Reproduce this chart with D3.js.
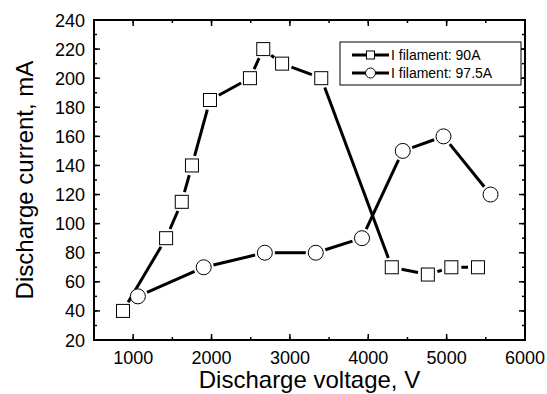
<!DOCTYPE html>
<html>
<head>
<meta charset="utf-8">
<style>
  body { margin: 0; background: #fff; }
  text { font-family: "Liberation Sans", Arial, sans-serif; }
</style>
</head>
<body>
<div id="container"></div>
<script src="https://d3js.org/d3.v7.min.js"></script>
<script>
// data
var series90 = [
  [870, 40], [1420, 90], [1620, 115], [1750, 140], [1980, 185],
  [2490, 200], [2660, 220], [2900, 210], [3400, 200], [4300, 70],
  [4760, 65], [5060, 70], [5400, 70]
];
var series975 = [
  [1060, 50], [1900, 70], [2680, 80], [3330, 80], [3920, 90],
  [4440, 150], [4960, 160], [5560, 120]
];
var seriesNames = ["I filament: 90A", "I filament: 97.5A"];
var xTicks = [1000, 2000, 3000, 4000, 5000, 6000];
var yTicks = [20, 40, 60, 80, 100, 120, 140, 160, 180, 200, 220, 240];

var margin = {top: 20, right: 22, bottom: 54, left: 94},
    width = 547 - margin.left - margin.right,
    height = 394 - margin.top - margin.bottom;

var svg = d3.select("#container").append("svg")
    .attr("width", 547)
    .attr("height", 394)
  .append("g")
    .attr("transform", "translate(" + margin.left + "," + margin.top + ")");

var x = d3.scaleLinear().domain([500, 6000]).range([0, width]);
var y = d3.scaleLinear().domain([20, 240]).range([height, 0]);

// minor + major ticks, all pointing inward
var xMinor = d3.range(500, 6001, 500);
var yMinor = d3.range(20, 241, 10);

function tickLines(g, vals, scale, horiz, base, dir, len) {
  g.selectAll(null).data(vals).enter().append("line")
    .attr("x1", d => horiz ? scale(d) : base)
    .attr("x2", d => horiz ? scale(d) : base + dir * len)
    .attr("y1", d => horiz ? base : scale(d))
    .attr("y2", d => horiz ? base + dir * len : scale(d))
    .attr("stroke", "#000").attr("stroke-width", 1.5);
}
var ticks = svg.append("g");
tickLines(ticks, xMinor, x, true, height, -1, 3);
tickLines(ticks, xTicks, x, true, height, -1, 6);
tickLines(ticks, xMinor, x, true, 0, 1, 3);
tickLines(ticks, xTicks, x, true, 0, 1, 6);
tickLines(ticks, yMinor, y, false, 0, 1, 3);
tickLines(ticks, yTicks, y, false, 0, 1, 6);
tickLines(ticks, yMinor, y, false, width, -1, 3);
tickLines(ticks, yTicks, y, false, width, -1, 6);

// frame
svg.append("rect")
  .attr("width", width).attr("height", height)
  .attr("fill", "none").attr("stroke", "#000").attr("stroke-width", 2);

// tick labels
svg.append("g").selectAll("text").data(xTicks).enter().append("text")
  .attr("x", d => x(d)).attr("y", height + 23.5)
  .attr("text-anchor", "middle").style("font-size", "18px")
  .text(d => d);
svg.append("g").selectAll("text").data(yTicks).enter().append("text")
  .attr("x", -9).attr("y", d => y(d) + 6.5)
  .attr("text-anchor", "end").style("font-size", "18px")
  .text(d => d);

// axis titles
svg.append("text")
  .attr("x", width / 2).attr("y", height + 48)
  .attr("text-anchor", "middle").style("font-size", "24px")
  .text("Discharge voltage, V");
svg.append("text")
  .attr("transform", "rotate(-90)")
  .attr("x", -height / 2).attr("y", -61)
  .attr("text-anchor", "middle").style("font-size", "24px")
  .text("Discharge current, mA");

// lines with gaps near the markers
function drawSeries(data, gap) {
  var pts = data.map(d => [x(d[0]), y(d[1])]);
  var g = svg.append("g");
  for (var i = 0; i < pts.length - 1; i++) {
    var a = pts[i], b = pts[i + 1];
    var dx = b[0] - a[0], dy = b[1] - a[1];
    var L = Math.sqrt(dx * dx + dy * dy);
    if (L <= 2 * gap) continue;
    var ux = dx / L, uy = dy / L;
    g.append("line")
      .attr("x1", a[0] + ux * gap).attr("y1", a[1] + uy * gap)
      .attr("x2", b[0] - ux * gap).attr("y2", b[1] - uy * gap)
      .attr("stroke", "#000").attr("stroke-width", 3);
  }
}
drawSeries(series90, 10);
drawSeries(series975, 10);

svg.append("g").selectAll("rect").data(series90).enter().append("rect")
  .attr("x", d => x(d[0]) - 6.5).attr("y", d => y(d[1]) - 6.5)
  .attr("width", 13).attr("height", 13)
  .attr("fill", "#fff").attr("stroke", "#000").attr("stroke-width", 1);
svg.append("g").selectAll("circle").data(series975).enter().append("circle")
  .attr("cx", d => x(d[0])).attr("cy", d => y(d[1])).attr("r", 7.5)
  .attr("fill", "#fff").attr("stroke", "#000").attr("stroke-width", 1);

// legend
var legend = svg.append("g").attr("transform", "translate(" + (340 - margin.left) + "," + (42 - margin.top) + ")");
legend.append("rect").attr("width", 181).attr("height", 43)
  .attr("fill", "#fff").attr("stroke", "#000").attr("stroke-width", 1);
seriesNames.forEach(function (name, i) {
  var cy = 13 + i * 18;
  legend.append("line").attr("x1", 12).attr("x2", 49).attr("y1", cy).attr("y2", cy)
    .attr("stroke", "#000").attr("stroke-width", 3);
  if (i === 0) {
    legend.append("rect").attr("x", 26.5).attr("y", cy - 4).attr("width", 8).attr("height", 8)
      .attr("fill", "#fff").attr("stroke", "#000").attr("stroke-width", 1);
  } else {
    legend.append("circle").attr("cx", 30.5).attr("cy", cy).attr("r", 5)
      .attr("fill", "#fff").attr("stroke", "#000").attr("stroke-width", 1);
  }
  legend.append("text").attr("x", 51).attr("y", cy + 5)
    .style("font-size", "14px").text(name);
});
</script>
</body>
</html>
